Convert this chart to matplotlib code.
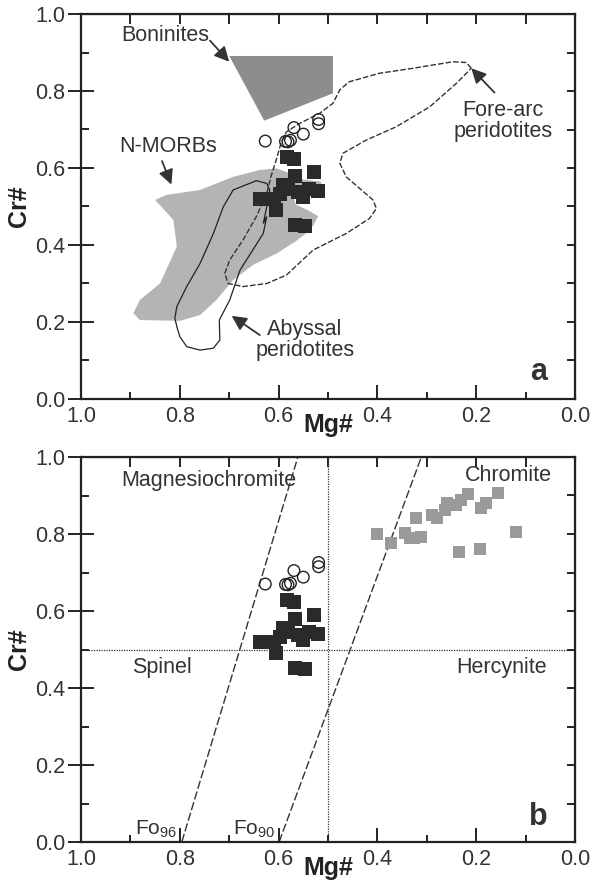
import matplotlib
matplotlib.use("Agg")
import matplotlib.pyplot as plt
from matplotlib.patches import Polygon
from matplotlib.ticker import MultipleLocator

plt.rcParams['font.family'] = ['Liberation Sans', 'DejaVu Sans']
plt.rcParams['mathtext.fontset'] = 'custom'
plt.rcParams['mathtext.rm'] = 'Liberation Sans'

TXT = '#333333'

# ---------------- data ----------------
# open circles (Mg#, Cr#)
circ_mg = [0.627, 0.586, 0.581, 0.576, 0.569, 0.550, 0.519, 0.519]
circ_cr = [0.670, 0.669, 0.668, 0.672, 0.705, 0.688, 0.726, 0.715]

# black squares
blk_mg = [0.584, 0.569, 0.567, 0.528, 0.591, 0.581, 0.637, 0.609, 0.606,
          0.561, 0.550, 0.539, 0.521, 0.567, 0.546, 0.598]
blk_cr = [0.629, 0.624, 0.578, 0.590, 0.555, 0.546, 0.520, 0.519, 0.490,
          0.538, 0.525, 0.546, 0.539, 0.451, 0.449, 0.533]

# grey squares (panel b)
gry_mg = [0.400, 0.372, 0.345, 0.335, 0.311, 0.325, 0.321, 0.290, 0.279,
          0.260, 0.264, 0.240, 0.230, 0.217, 0.190, 0.181, 0.156, 0.120,
          0.235, 0.193]
gry_cr = [0.800, 0.776, 0.802, 0.789, 0.791, 0.789, 0.842, 0.849, 0.841,
          0.880, 0.862, 0.875, 0.888, 0.904, 0.867, 0.880, 0.907, 0.806,
          0.754, 0.760]

# field outlines (Mg#, Cr#)
boninite_mg = [0.700, 0.490, 0.490, 0.629]
boninite_cr = [0.891, 0.891, 0.794, 0.723]

nmorb_mg = [0.850, 0.827, 0.759, 0.692, 0.638, 0.604, 0.575, 0.550, 0.515,
            0.510, 0.540, 0.570, 0.565, 0.540, 0.520, 0.530, 0.545, 0.565,
            0.604, 0.652, 0.692, 0.726, 0.759, 0.800, 0.881, 0.894, 0.881,
            0.840, 0.806, 0.813]
nmorb_cr = [0.517, 0.530, 0.543, 0.577, 0.595, 0.599, 0.585, 0.570, 0.565,
            0.548, 0.535, 0.525, 0.505, 0.490, 0.475, 0.450, 0.430, 0.410,
            0.378, 0.348, 0.309, 0.257, 0.218, 0.203, 0.205, 0.223, 0.257,
            0.300, 0.396, 0.465]

abyssal_mg = [0.645, 0.692, 0.712, 0.732, 0.759, 0.786, 0.806, 0.810, 0.806,
              0.800, 0.786, 0.759, 0.732, 0.719, 0.720, 0.699, 0.678, 0.631,
              0.624, 0.631, 0.624, 0.618, 0.624]
abyssal_cr = [0.567, 0.543, 0.499, 0.430, 0.352, 0.292, 0.240, 0.210, 0.188,
              0.162, 0.136, 0.127, 0.132, 0.153, 0.205, 0.257, 0.335, 0.430,
              0.474, 0.456, 0.499, 0.543, 0.560]

forearc_mg = [0.210, 0.220, 0.247, 0.328, 0.396, 0.457, 0.476, 0.490, 0.517,
              0.557, 0.584, 0.595, 0.605, 0.615, 0.624, 0.645, 0.672, 0.699,
              0.709, 0.702, 0.672, 0.624, 0.584, 0.530, 0.463, 0.416, 0.402,
              0.409, 0.463, 0.476, 0.470, 0.422, 0.362, 0.294, 0.240]
forearc_cr = [0.859, 0.874, 0.876, 0.859, 0.846, 0.824, 0.803, 0.768, 0.742,
              0.716, 0.694, 0.665, 0.620, 0.580, 0.534, 0.474, 0.413, 0.361,
              0.326, 0.300, 0.292, 0.300, 0.322, 0.387, 0.430, 0.469, 0.495,
              0.517, 0.577, 0.612, 0.638, 0.673, 0.707, 0.759, 0.820]

# Fo lines in panel b: (Mg# at Cr#=0, Mg# at Cr#=1)
fo96_mg = [0.796, 0.561]
fo90_mg = [0.599, 0.311]
fo_cr = [0.0, 1.0]

xticks = [1.0, 0.8, 0.6, 0.4, 0.2, 0.0]
yticks = [0.0, 0.2, 0.4, 0.6, 0.8, 1.0]
ticklabels = ['1.0', '0.8', '0.6', '0.4', '0.2', '0.0']

fig = plt.figure(figsize=(5.97, 8.84), dpi=100)
W, H = 597, 884
def rect(l, t, r, b):
    return [l / W, 1 - b / H, (r - l) / W, (b - t) / H]

ax1 = fig.add_axes(rect(81, 14, 575, 399))
ax2 = fig.add_axes(rect(81, 457, 575, 842))

FS = 15.5


def style(ax):
    ax.set_xlim(1.0, 0.0)
    ax.set_ylim(0.0, 1.0)
    for s in ax.spines.values():
        s.set_linewidth(1.6)
        s.set_color('#222222')
    ax.set_xticks(xticks)
    ax.set_xticklabels(ticklabels)
    ax.set_yticks(yticks)
    ax.set_yticklabels(['0.0', '0.2', '0.4', '0.6', '0.8', '1.0'])
    ax.xaxis.set_minor_locator(MultipleLocator(0.1))
    ax.yaxis.set_minor_locator(MultipleLocator(0.1))
    ax.tick_params(axis='x', which='major', direction='in', length=10, width=1.4,
                   labelsize=15.5, colors='#222222', labelcolor=TXT, pad=5)
    ax.tick_params(axis='x', which='minor', direction='in', length=5, width=1.4,
                   colors='#222222')
    ax.tick_params(axis='y', which='major', direction='inout', length=19, width=1.4,
                   labelsize=15.5, colors='#222222', labelcolor=TXT, pad=2)
    ax.tick_params(axis='y', which='minor', direction='in', length=6, width=1.4,
                   colors='#222222')
    sx = ax.secondary_xaxis('top')
    sx.set_xticks([i / 10 for i in range(11)])
    sx.tick_params(direction='in', length=7, width=1.4, labeltop=False, colors='#222222')
    sx.xaxis.set_minor_locator(matplotlib.ticker.NullLocator())
    sy = ax.secondary_yaxis('right')
    sy.set_yticks([i / 10 for i in range(11)])
    sy.tick_params(direction='in', length=6, width=1.4, labelright=False, colors='#222222')
    sy.yaxis.set_minor_locator(matplotlib.ticker.NullLocator())
    ax.set_xlabel('Mg#', fontsize=18, fontweight='bold', color='#222222', labelpad=-10)
    ax.set_ylabel('Cr#', fontsize=18, fontweight='bold', color='#222222', labelpad=3)


def points(ax):
    ax.scatter(blk_mg, blk_cr, marker='s', s=90, color='#2a2a2a', linewidths=0, zorder=5)
    ax.scatter(circ_mg, circ_cr, marker='o', s=70, facecolors='none',
               edgecolors='#222222', linewidths=1.0, zorder=6)


arrow = dict(arrowstyle='-|>', color='#333333', lw=1.3, mutation_scale=22,
             shrinkA=0, shrinkB=0)

# ---------------- panel a ----------------
style(ax1)
ax1.add_patch(Polygon(list(zip(nmorb_mg, nmorb_cr)), closed=True,
                      facecolor='#b4b4b4', edgecolor='none', zorder=1))
ax1.add_patch(Polygon(list(zip(boninite_mg, boninite_cr)), closed=True,
                      facecolor='#8d8d8d', edgecolor='none', zorder=1))
ax1.add_patch(Polygon(list(zip(abyssal_mg, abyssal_cr)), closed=True,
                      facecolor='none', edgecolor='#222222', lw=0.9, zorder=2))
ax1.add_patch(Polygon(list(zip(forearc_mg, forearc_cr)), closed=True,
                      facecolor='none', edgecolor='#333333', lw=1.0,
                      linestyle=(0, (4, 1.5)), zorder=2))
points(ax1)

ax1.annotate('', xy=(0.700, 0.876), xytext=(0.739, 0.931), arrowprops=arrow)
ax1.text(0.829, 0.945, 'Boninites', fontsize=FS, color=TXT, ha='center', va='center')
ax1.annotate('', xy=(0.817, 0.557), xytext=(0.836, 0.618), arrowprops=arrow)
ax1.text(0.823, 0.655, 'N-MORBs', fontsize=FS, color=TXT, ha='center', va='center')
ax1.annotate('', xy=(0.210, 0.859), xytext=(0.163, 0.796), arrowprops=arrow)
ax1.text(0.145, 0.722, 'Fore-arc\nperidotites', fontsize=FS, color=TXT,
         ha='center', va='center', linespacing=1.0)
ax1.annotate('', xy=(0.695, 0.216), xytext=(0.638, 0.166), arrowprops=arrow)
ax1.text(0.547, 0.153, 'Abyssal\nperidotites', fontsize=FS, color=TXT,
         ha='center', va='center', linespacing=1.0)
ax1.text(0.074, 0.071, 'a', fontsize=22, fontweight='bold', color=TXT,
         ha='center', va='center')

# ---------------- panel b ----------------
style(ax2)
ax2.axvline(0.5, color='#333333', lw=0.9, linestyle=(0, (1, 1)), zorder=1)
ax2.axhline(0.5, color='#333333', lw=0.9, linestyle=(0, (1, 1)), zorder=1)
ax2.plot(fo96_mg, fo_cr, color='#333333', lw=1.0, linestyle=(0, (6, 2)), zorder=2)
ax2.plot(fo90_mg, fo_cr, color='#333333', lw=1.0, linestyle=(0, (6, 2)), zorder=2)
ax2.scatter(gry_mg, gry_cr, marker='s', s=85, color='#9a9a9a', linewidths=0, zorder=4)
points(ax2)

ax2.text(0.741, 0.94, 'Magnesiochromite', fontsize=FS, color=TXT, ha='center', va='center')
ax2.text(0.134, 0.951, 'Chromite', fontsize=FS, color=TXT, ha='center', va='center')
ax2.text(0.837, 0.452, 'Spinel', fontsize=FS, color=TXT, ha='center', va='center')
ax2.text(0.149, 0.452, 'Hercynite', fontsize=FS, color=TXT, ha='center', va='center')
ax2.text(0.805, 0.006, r'Fo$_{\mathrm{96}}$', fontsize=15, color=TXT, ha='right', va='bottom')
ax2.text(0.606, 0.006, r'Fo$_{\mathrm{90}}$', fontsize=15, color=TXT, ha='right', va='bottom')
ax2.text(0.075, 0.065, 'b', fontsize=22, fontweight='bold', color=TXT,
         ha='center', va='center')

fig.savefig('out.png', dpi=100)
